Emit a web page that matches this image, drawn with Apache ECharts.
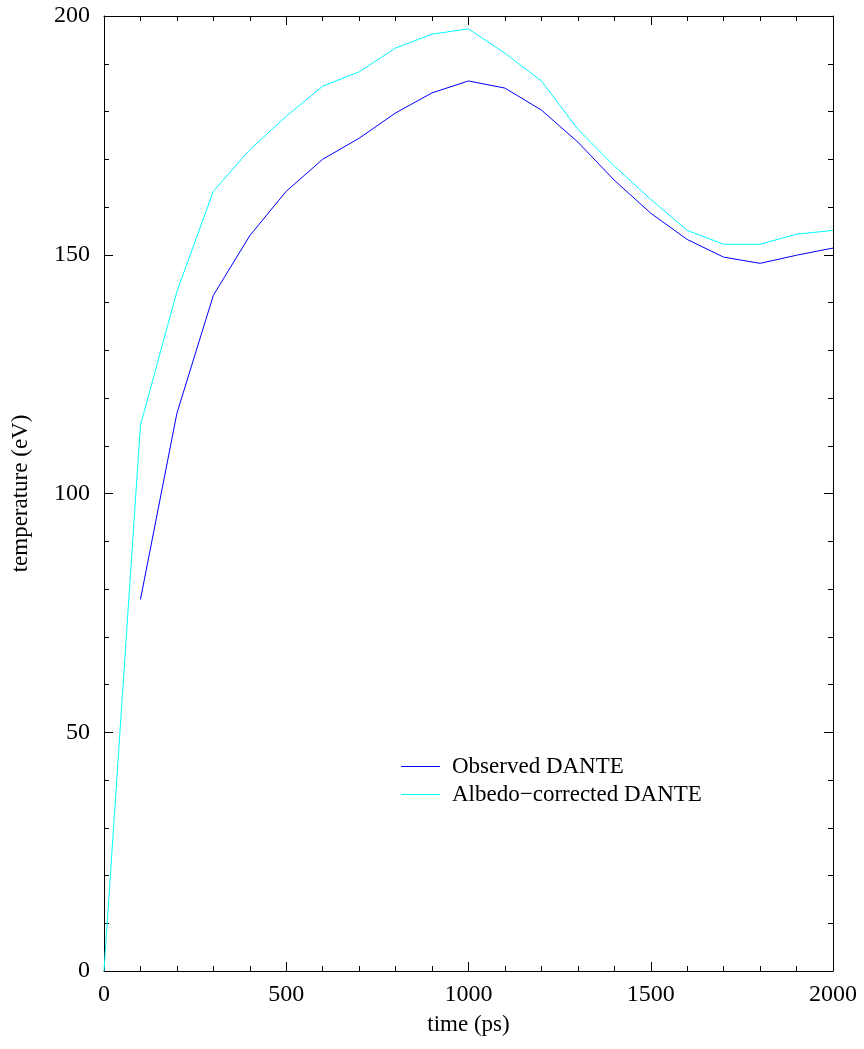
<!DOCTYPE html>
<html>
<head>
<meta charset="utf-8">
<script src="https://cdn.jsdelivr.net/npm/echarts@6/dist/echarts.min.js"></script>
<style>
    html, body { margin: 0; padding: 0; background: #fff; }
    #chart { width: 864px; height: 1049px; }
</style>
</head>
<body>
<div id="chart"></div>
<script>
    // time (ps)
    var timeObserved = [100, 200, 300, 400, 500, 600, 700, 800, 900, 1000, 1100, 1200, 1300, 1400, 1500, 1600, 1700, 1800, 1900, 2000];
    var tempObserved = [77.8, 116.8, 141.5, 154, 163.3, 170, 174.4, 179.7, 183.9, 186.4, 184.9, 180.3, 173.6, 165.6, 158.7, 153.2, 149.5, 148.2, 149.9, 151.4];

    var timeCorrected = [0, 100, 200, 300, 400, 500, 600, 700, 800, 900, 1000, 1100, 1200, 1300, 1400, 1500, 1600, 1700, 1800, 1900, 2000];
    var tempCorrected = [0, 114.3, 142.3, 163.3, 172, 179, 185.3, 188.3, 193.3, 196.2, 197.3, 192.2, 186.4, 176.3, 168.6, 161.6, 155.1, 152.2, 152.2, 154.3, 155.1];

    var seriesNames = ['Observed DANTE', 'Albedo\u2212corrected DANTE'];

    function pairs(xs, ys) {
        return xs.map(function (x, i) { return [x, ys[i]]; });
    }

    var font = 'Liberation Serif';
    var axisLine = { show: true, onZero: false, lineStyle: { color: '#000', width: 1 } };
    var tick = { show: true, inside: true, length: 9, lineStyle: { color: '#000' } };
    var minor = { show: true, splitNumber: 5, length: 5, lineStyle: { color: '#000' } };

    var chart = echarts.init(document.getElementById('chart'));
    chart.setOption({
        animation: false,
        backgroundColor: '#fff',
        grid: { left: 104, right: 31, top: 16, bottom: 78 },
        legend: {
            orient: 'vertical',
            left: 396,
            top: 750,
            itemWidth: 39,
            itemHeight: 1,
            itemGap: 5,
            icon: 'rect',
            data: seriesNames,
            textStyle: { fontFamily: font, fontSize: 23, color: '#000', lineHeight: 23, padding: [0, 0, 0, 7] }
        },
        xAxis: [{
            type: 'value', min: 0, max: 2000, interval: 500,
            name: 'time (ps)', nameLocation: 'middle', nameGap: 42,
            nameTextStyle: { fontFamily: font, fontSize: 23, color: '#000' },
            axisLine: axisLine, axisTick: tick, minorTick: minor,
            splitLine: { show: false },
            axisLabel: { fontFamily: font, fontSize: 24, color: '#000', margin: 12, formatter: function (v) { return String(v); } }
        }, {
            type: 'value', position: 'top', min: 0, max: 2000, interval: 500,
            axisLine: axisLine, axisTick: tick, minorTick: minor,
            splitLine: { show: false }, axisLabel: { show: false }
        }],
        yAxis: [{
            type: 'value', min: 0, max: 200, interval: 50,
            name: 'temperature (eV)', nameLocation: 'middle', nameGap: 72,
            nameTextStyle: { fontFamily: font, fontSize: 23, color: '#000' },
            axisLine: axisLine, axisTick: tick, minorTick: minor,
            splitLine: { show: false },
            axisLabel: { fontFamily: font, fontSize: 24, color: '#000', margin: 14 }
        }, {
            type: 'value', position: 'right', min: 0, max: 200, interval: 50,
            axisLine: axisLine, axisTick: tick, minorTick: minor,
            splitLine: { show: false }, axisLabel: { show: false }
        }],
        series: [{
            name: seriesNames[0],
            type: 'line',
            data: pairs(timeObserved, tempObserved),
            showSymbol: false,
            color: '#0000ff',
            lineStyle: { color: '#0000ff', width: 1 }
        }, {
            name: seriesNames[1],
            type: 'line',
            data: pairs(timeCorrected, tempCorrected),
            showSymbol: false,
            color: '#00ffff',
            lineStyle: { color: '#00ffff', width: 1 }
        }]
    });
</script>
</body>
</html>
